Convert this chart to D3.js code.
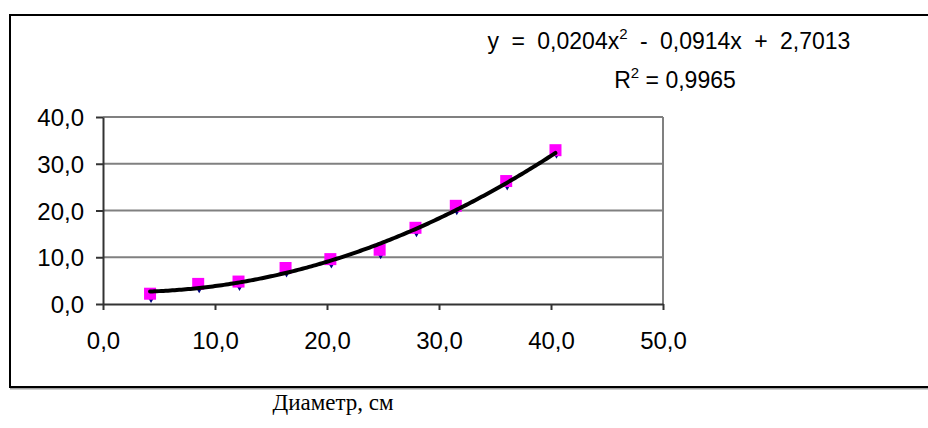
<!DOCTYPE html>
<html>
<head>
<meta charset="utf-8">
<script src="https://cdn.jsdelivr.net/npm/d3@7"></script>
<style>
    body { margin: 0; background: #fff; }
    svg { display: block; }
    .tick text { font-family: "Liberation Sans", Arial, sans-serif; font-size: 24px; fill: #000; }
</style>
</head>
<body>
<div id="chart"></div>
<script>
// measured points (diameter, cm / value)
const diameter = [4.2, 8.5, 12.1, 16.3, 20.3, 24.7, 27.9, 31.5, 36.0, 40.4]
const squareValues = [2.2, 4.3, 4.8, 7.7, 9.6, 11.6, 16.3, 21.0, 26.3, 32.9]
const diamondValues = [1.6, 3.7, 4.2, 7.1, 9.0, 11.0, 15.7, 20.4, 25.7, 32.5]

// polynomial trendline, as printed on the chart: c0 + c1*x + c2*x^2
const trendCoefficients = [2.7013, -0.0914, 0.0204]
const equationText = ['y = 0,0204x', '2', ' - 0,0914x + 2,7013']
const r2Text = ['R', '2', ' = 0,9965']

const xTicks = [0, 10, 20, 30, 40, 50]
const yTicks = [0, 10, 20, 30, 40]
const xTitle = 'Диаметр, см'

const width = 928
const height = 428
const plot = { left: 103, right: 663, top: 117, bottom: 304 }

const fmt = d => d3.format('.1f')(d).replace('.', ',')

const svg = d3.select('#chart').append('svg')
    .attr('width', width)
    .attr('height', height)

// chart frame (runs off the right edge)
svg.append('rect')
    .attr('x', 11).attr('y', 16.5)
    .attr('width', 960).attr('height', 372)
    .attr('fill', 'none').attr('stroke', '#a0a0a0').attr('stroke-width', 2)
svg.append('rect')
    .attr('x', 10).attr('y', 15)
    .attr('width', 960).attr('height', 372)
    .attr('fill', '#fff').attr('stroke', '#000').attr('stroke-width', 2)

const x = d3.scaleLinear().domain([0, 50]).range([plot.left, plot.right])
const y = d3.scaleLinear().domain([0, 40]).range([plot.bottom, plot.top])

// gridlines
svg.append('g')
    .selectAll('line')
    .data(yTicks.slice(1))
    .enter()
        .append('line')
            .attr('x1', plot.left).attr('x2', plot.right)
            .attr('y1', d => y(d)).attr('y2', d => y(d))
            .attr('stroke', '#808080').attr('stroke-width', 2)

svg.append('line')
    .attr('x1', plot.right).attr('x2', plot.right)
    .attr('y1', plot.top).attr('y2', plot.bottom)
    .attr('stroke', '#808080').attr('stroke-width', 2)

// axes
const xAxis = svg.append('g')
    .attr('transform', `translate(0, ${plot.bottom})`)
    .call(d3.axisBottom(x).tickValues(xTicks).tickFormat(fmt).tickSize(6).tickPadding(22).tickSizeOuter(0))
const yAxis = svg.append('g')
    .attr('transform', `translate(${plot.left}, 0)`)
    .call(d3.axisLeft(y).tickValues(yTicks).tickFormat(fmt).tickSize(7).tickPadding(12).tickSizeOuter(0))

;[xAxis, yAxis].forEach(axis => {
    axis.select('.domain').attr('stroke', '#333').attr('stroke-width', 2)
    axis.selectAll('.tick line').attr('stroke', '#333').attr('stroke-width', 2)
})
yAxis.selectAll('.tick text').attr('dy', '0.36em')

// markers: diamonds underneath, squares on top
const points = diameter.map((d, i) => ({ x: d, square: squareValues[i], diamond: diamondValues[i] }))

svg.append('g')
    .selectAll('path')
    .data(points)
    .enter()
        .append('path')
            .attr('d', d3.symbol().type(d3.symbolDiamond).size(50))
            .attr('transform', d => `translate(${x(d.x) + 1}, ${y(d.diamond)})`)
            .attr('fill', '#000080')

svg.append('g')
    .selectAll('rect')
    .data(points)
    .enter()
        .append('rect')
            .attr('x', d => x(d.x) - 6)
            .attr('y', d => y(d.square) - 6)
            .attr('width', 12).attr('height', 12)
            .attr('fill', '#ff00ff')

// trendline
const trend = xv => trendCoefficients.reduce((sum, c, k) => sum + c * Math.pow(xv, k), 0)
const trendX = d3.range(d3.min(diameter), d3.max(diameter) + 0.01, 0.2)
svg.append('path')
    .datum(trendX)
    .attr('d', d3.line().x(d => x(d)).y(d => y(trend(d))))
    .attr('fill', 'none')
    .attr('stroke', '#000')
    .attr('stroke-width', 4)
    .attr('stroke-linejoin', 'round')
    .attr('stroke-linecap', 'round')

// equation label
function _addSuperText(parts, cx, baseline, wordSpacing) {
    const t = svg.append('text')
        .attr('x', cx).attr('y', baseline)
        .attr('text-anchor', 'middle')
        .attr('font-family', '"Liberation Sans", Arial, sans-serif')
        .attr('font-size', 23)
        .style('white-space', 'pre')
        .style('word-spacing', `${wordSpacing}px`)
    t.append('tspan').text(parts[0])
    t.append('tspan').attr('dy', -10).attr('font-size', 15).text(parts[1])
    t.append('tspan').attr('dy', 10).text(parts[2])
}
_addSuperText(equationText, 669, 49, 6)
_addSuperText(r2Text, 675, 88, 0)

// axis title
svg.append('text')
    .attr('x', 333).attr('y', 410)
    .attr('text-anchor', 'middle')
    .attr('font-family', '"Liberation Serif", "Times New Roman", serif')
    .attr('font-size', 23)
    .text(xTitle)
</script>
</body>
</html>
